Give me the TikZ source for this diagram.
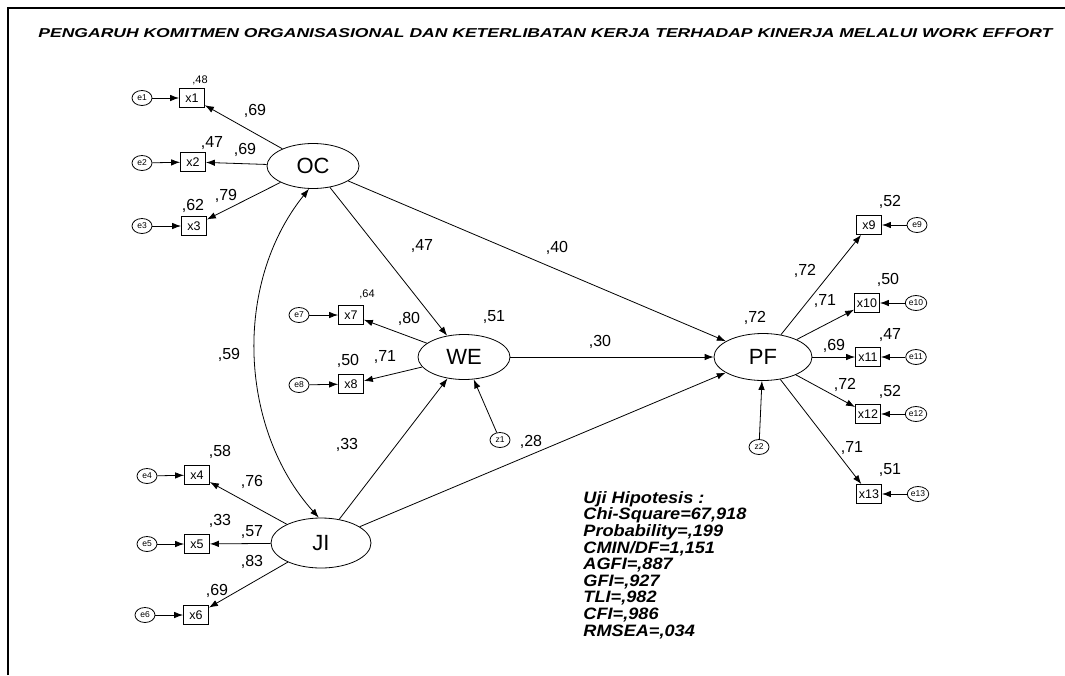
\documentclass[tikz,border=0pt]{standalone}
\usepackage{fontspec}
\usepackage{graphicx}
\setmainfont{Liberation Sans}
\usetikzlibrary{arrows.meta,shapes.geometric}
\tikzset{
 lat/.style={draw,ellipse,minimum width=92pt,minimum height=45pt,inner sep=0pt,font=\fontsize{22}{24}\selectfont},
 obs/.style={draw,rectangle,minimum width=25pt,minimum height=19pt,inner sep=0pt,font=\fontsize{12.5}{14}\selectfont},
 err/.style={draw,ellipse,minimum width=20pt,minimum height=15pt,inner sep=0.5pt,font=\fontsize{8.5}{9}\selectfont},
 val/.style={inner sep=0pt,font=\fontsize{16}{17}\selectfont},
 sval/.style={inner sep=0pt,font=\fontsize{11}{12}\selectfont},
 arr/.style={-{Latex[length=9pt,width=6.5pt]}},
 darr/.style={{Latex[length=9pt,width=6.5pt]}-{Latex[length=9pt,width=6.5pt]}},
 frameline/.style={line width=1.2pt}
}
\begin{document}
\begin{tikzpicture}[x=1pt,y=-1pt,line width=0.8pt]
\useasboundingbox (0,0) rectangle (1065,675);
\draw[frameline] (8,675) -- (8,8) -- (1065,8);
\node[anchor=base west,inner sep=0pt] (title) at (38,37) {\resizebox{1014pt}{9pt}{\bfseries\itshape PENGARUH KOMITMEN ORGANISASIONAL DAN KETERLIBATAN KERJA TERHADAP KINERJA MELALUI WORK EFFORT}};
% latent
\node[lat] (OC) at (313,166) {OC};
\node[lat] (WE) at (464,357) {WE};
\node[lat,minimum width=100pt,minimum height=50pt] (JI) at (321,543) {JI};
\node[lat,minimum width=98pt,minimum height=47pt] (PF) at (763,357) {PF};
% observed
\node[obs] (x1) at (192,98) {x1};
\node[obs] (x2) at (193,162) {x2};
\node[obs] (x3) at (194,226) {x3};
\node[obs] (x4) at (197,475) {x4};
\node[obs] (x5) at (197,544) {x5};
\node[obs] (x6) at (196,615) {x6};
\node[obs] (x7) at (351,315) {x7};
\node[obs] (x8) at (351,384) {x8};
\node[obs] (x9) at (869,225) {x9};
\node[obs] (x10) at (867,303) {x10};
\node[obs] (x11) at (868,357) {x11};
\node[obs] (x12) at (868,414) {x12};
\node[obs] (x13) at (869,494) {x13};
% errors
\node[err] (e1) at (142,98) {e1};
\node[err] (e2) at (142,163) {e2};
\node[err] (e3) at (142,226) {e3};
\node[err] (e4) at (147,476) {e4};
\node[err] (e5) at (147,544) {e5};
\node[err] (e6) at (145,615) {e6};
\node[err] (e7) at (299,315) {e7};
\node[err] (e8) at (299,385) {e8};
\node[err] (e9) at (917,225) {e9};
\node[err] (e10) at (916,303) {e10};
\node[err] (e11) at (916,357) {e11};
\node[err] (e12) at (916,414) {e12};
\node[err] (e13) at (918,494) {e13};
\node[err] (z1) at (500,440) {z1};
\node[err] (z2) at (759,447) {z2};
% error arrows
\foreach \i in {1,...,13} {\draw[arr] (e\i) -- (x\i);}
% loadings
\foreach \i in {1,2,3} {\draw[arr] (OC) -- (x\i);}
\foreach \i in {4,5,6} {\draw[arr] (JI) -- (x\i);}
\foreach \i in {7,8} {\draw[arr] (WE) -- (x\i);}
\foreach \i in {9,...,13} {\draw[arr] (PF) -- (x\i);}
% structural
\draw[arr] (OC) -- (WE);
\draw[arr] (OC) -- (PF);
\draw[arr] (WE) -- (PF);
\draw[arr] (JI) -- (WE);
\draw[arr] (JI) -- (PF);
\draw[arr] (z1) -- (WE);
\draw[arr] (z2) -- (PF);
\draw[darr] (OC.260) .. controls (232,285) and (240,430) .. (JI.95);
% values
\node[sval] (r1) at (200,80) {,48};
\node[val] (l1) at (255,111) {,69};
\node[val] (r2) at (212,143) {,47};
\node[val] (l2) at (245,150) {,69};
\node[val] (r3) at (193,206) {,62};
\node[val] (l3) at (226,196) {,79};
\node[sval] (r7) at (367,294) {,64};
\node[val] (l7) at (409,319) {,80};
\node[val] (rWE) at (494,317) {,51};
\node[val] (r8) at (348,361) {,50};
\node[val] (l8) at (385,357) {,71};
\node[val] (bOW) at (422,246) {,47};
\node[val] (bOP) at (557,248) {,40};
\node[val] (bWP) at (600,342) {,30};
\node[val] (cOJ) at (229,355) {,59};
\node[val] (bJW) at (347,445) {,33};
\node[val] (bJP) at (531,442) {,28};
\node[val] (r4) at (220,452) {,58};
\node[val] (l4) at (252,482) {,76};
\node[val] (r5) at (220,521) {,33};
\node[val] (l5) at (252,532) {,57};
\node[val] (l6) at (252,562) {,83};
\node[val] (r6) at (217,591) {,69};
\node[val] (rPF) at (755,318) {,72};
\node[val] (l9) at (805,271) {,72};
\node[val] (r9) at (890,202) {,52};
\node[val] (l10) at (825,301) {,71};
\node[val] (r10) at (888,280) {,50};
\node[val] (l11) at (834,346) {,69};
\node[val] (r11) at (890,335) {,47};
\node[val] (l12) at (845,385) {,72};
\node[val] (r12) at (890,392) {,52};
\node[val] (l13) at (852,448) {,71};
\node[val] (r13) at (890,470) {,51};
% fit statistics
\node[anchor=north west,align=left,inner sep=0pt,xscale=1.1,font=\fontsize{16.5}{16.6}\selectfont\bfseries\itshape] (stats) at (583,491) {Uji Hipotesis :\\Chi-Square=67,918\\Probability=,199\\CMIN/DF=1,151\\AGFI=,887\\GFI=,927\\TLI=,982\\CFI=,986\\RMSEA=,034};
\end{tikzpicture}
\end{document}
